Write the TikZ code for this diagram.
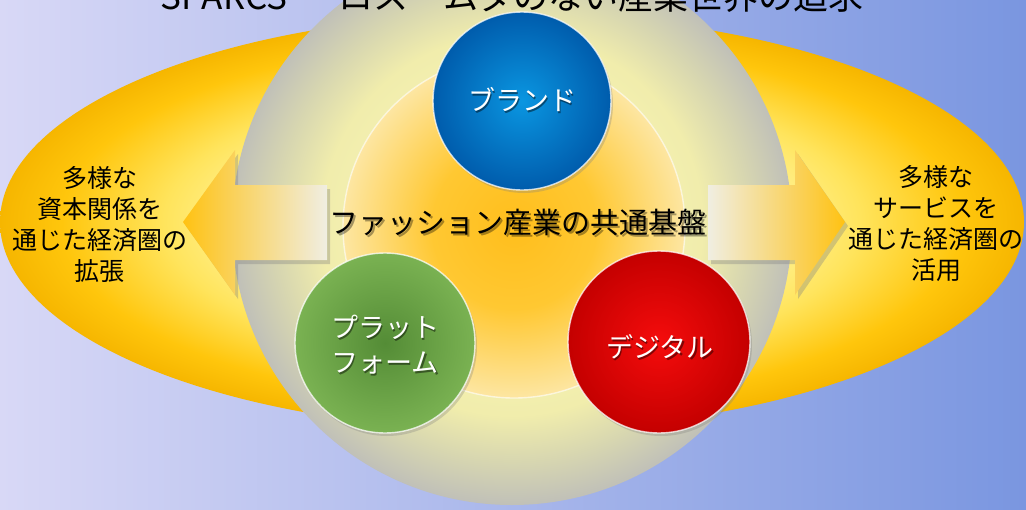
\documentclass[tikz,border=0pt]{standalone}
\usepackage{fontspec}
\setmainfont{Noto Sans CJK JP}
\usetikzlibrary{shadows}
\definecolor{bgl}{RGB}{216,216,246}
\definecolor{bgm}{RGB}{184,184,238}
\definecolor{bgr}{RGB}{122,150,224}
\definecolor{ellA}{RGB}{255,252,182}
\definecolor{ellB}{RGB}{255,245,160}
\definecolor{ellC}{RGB}{255,228,92}
\definecolor{ellD}{RGB}{255,198,12}
\definecolor{ellE}{RGB}{246,182,0}
\definecolor{gryA}{RGB}{249,247,192}
\definecolor{gryB}{RGB}{241,237,172}
\definecolor{gryC}{RGB}{216,215,176}
\definecolor{gryD}{RGB}{192,192,184}
\definecolor{innA}{RGB}{255,190,28}
\definecolor{innB}{RGB}{255,200,50}
\definecolor{innC}{RGB}{253,230,162}
\definecolor{bluA}{RGB}{10,150,225}
\definecolor{bluB}{RGB}{0,92,172}
\definecolor{grnA}{RGB}{84,140,54}
\definecolor{grnB}{RGB}{122,178,82}
\definecolor{redA}{RGB}{245,12,12}
\definecolor{redB}{RGB}{196,0,0}
\definecolor{arrgold}{RGB}{255,194,18}
\definecolor{arrpale}{RGB}{240,238,226}
\pgfdeclareradialshading{ellshade}{\pgfpointorigin}{color(0bp)=(ellA); color(12bp)=(ellB); color(17bp)=(ellC); color(22bp)=(ellD); color(25bp)=(ellE); color(50bp)=(ellE)}
\pgfdeclareradialshading{gryshade}{\pgfpointorigin}{color(0bp)=(gryA); color(17bp)=(gryB); color(21bp)=(gryC); color(25bp)=(gryD); color(50bp)=(gryD)}
\pgfdeclareradialshading{innshade}{\pgfpointorigin}{color(0bp)=(innA); color(12bp)=(innB); color(25bp)=(innC); color(50bp)=(innC)}
\pgfdeclareradialshading{blushade}{\pgfpointorigin}{color(0bp)=(bluA); color(25bp)=(bluB); color(50bp)=(bluB)}
\pgfdeclareradialshading{grnshade}{\pgfpointorigin}{color(0bp)=(grnA); color(25bp)=(grnB); color(50bp)=(grnB)}
\pgfdeclareradialshading{redshade}{\pgfpointorigin}{color(0bp)=(redA); color(25bp)=(redB); color(50bp)=(redB)}
\tikzset{
  ballshadow/.style={drop shadow={opacity=0.3, shadow xshift=2pt, shadow yshift=-3pt}},
  ballrim/.style={draw=white, draw opacity=0.75, line width=1.4pt},
  arrowshadow/.style={drop shadow={opacity=0.35, shadow xshift=3pt, shadow yshift=-4pt}},
  balltext/.style={text=white, align=center, font=\fontsize{27}{35}\selectfont},
  balltextshadow/.style={text=black, text opacity=0.45, align=center, font=\fontsize{27}{35}\selectfont},
  sidetext/.style={text=black, align=center, font=\fontsize{25}{31}\selectfont},
  centertext/.style={text=black, font=\fontsize{29}{35}\selectfont},
  centershadow/.style={text=black, text opacity=0.35, font=\fontsize{29}{35}\selectfont},
  titletext/.style={text=black, font=\fontsize{35}{40}\selectfont, anchor=base}
}
\begin{document}
\begin{tikzpicture}[x=1pt,y=-1pt]
\useasboundingbox (0,0) rectangle (1026,509);
\clip (0,0) rectangle (1026,509);
% background
\shade[left color=bgl, middle color=bgm, right color=bgr] (0,0) rectangle (1026,509);
% big ellipse
\shade[shading=ellshade] (512,222) ellipse [x radius=512pt, y radius=208pt];
% grey circle
\shade[shading=gryshade] (512,225) circle [radius=280pt];
% inner circle
\shade[shading=innshade, ballrim, draw opacity=0.6] (514,227) circle [radius=171pt];
% arrows
\shade[arrowshadow, left color=arrgold, right color=arrpale]
  (327,185) -- (235,185) -- (235,150) -- (183,222) -- (235,295) -- (235,260) -- (327,260) -- cycle;
\shade[arrowshadow, left color=arrpale, right color=arrgold]
  (708,185) -- (795,185) -- (795,150) -- (845,222) -- (795,295) -- (795,260) -- (708,260) -- cycle;
% balls
\shade[shading=blushade, ballshadow, ballrim] (522,101) circle [radius=89pt];
\shade[shading=grnshade, ballshadow, ballrim] (385,343) circle [radius=90pt];
\shade[shading=redshade, ballshadow, ballrim] (659,342) circle [radius=91pt];
% ball labels
\node[balltextshadow] (brandS) at (523.5,101.5) {ブランド};
\node[balltext] (brand) at (522,100) {ブランド};
\node[balltextshadow] (platS) at (386.5,346.5) {プラット\\フォーム};
\node[balltext] (plat) at (385,345) {プラット\\フォーム};
\node[balltextshadow] (digiS) at (661.5,348.5) {デジタル};
\node[balltext] (digi) at (660,347) {デジタル};
% centre text
\node[centershadow] (baseS) at (520,224) {ファッション産業の共通基盤};
\node[centertext] (base) at (518,222) {ファッション産業の共通基盤};
% side texts
\node[sidetext] (left) at (100,224) {多様な\\資本関係を\\通じた経済圏の\\拡張};
\node[sidetext] (right) at (936,224) {多様な\\サービスを\\通じた経済圏の\\活用};
% title (cut off at the top)
\node[titletext] (title) at (512,9) {SPARCS ー ロス・ムダのない産業世界の追求};
\end{tikzpicture}
\end{document}
